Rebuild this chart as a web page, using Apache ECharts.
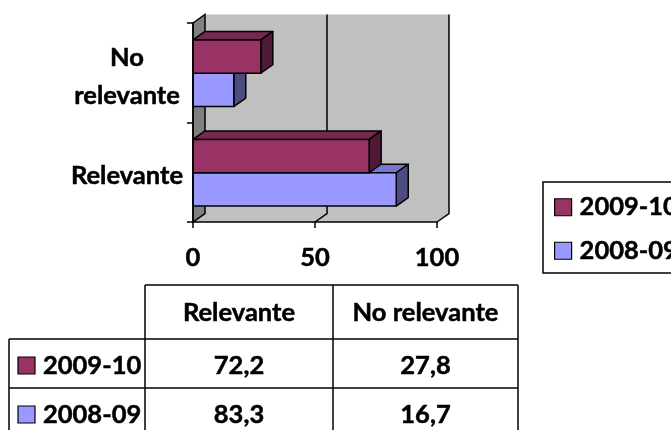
<!DOCTYPE html>
<html>
<head>
<meta charset="utf-8">
<script src="https://cdn.jsdelivr.net/npm/echarts@6/dist/echarts.min.js"></script>
<style>
html,body{margin:0;padding:0;background:#fff;}
#chart{width:671px;height:430px;}
</style>
</head>
<body>
<div id="chart"></div>
<script>
// ---- data ----
const categories = ['Relevante', 'No relevante'];
const seriesNames = ['2009-10', '2008-09'];
const values2009 = [72.2, 27.8];
const values2008 = [83.3, 16.7];
const xMin = 0, xMax = 100, xInterval = 50;

// ---- styles ----
const FONT = 'Lato';
const FS = 25.5;
const TB = 0.5; // slight text outline for heavier weight
const seriesColors = {
  '2009-10': { front: '#993366', top: '#772850', side: '#4e1a35' },
  '2008-09': { front: '#9999ff', top: '#7777cc', side: '#4c4c80' }
};
const DX = 12, DY = -8.5;
const STROKE = '#000';

function fmt(v) { return v.toFixed(1).replace('.', ','); }

function wallRender(params, api) {
  const cs = params.coordSys;
  const yTop = cs.y, yBot = cs.y + cs.height;
  const x0 = api.coord([xMin, 0])[0];
  const x100 = api.coord([xMax, 0])[0];
  const children = [];
  children.push({ type: 'polygon', shape: { points: [[x0 + DX, yTop + DY], [x100 + DX, yTop + DY], [x100 + DX, yBot + DY], [x100, yBot], [x0, yBot], [x0 + DX, yBot + DY]] }, style: { fill: '#c0c0c0', stroke: null } });
  for (let v = xMin + xInterval; v <= xMax; v += xInterval) {
    const xv = api.coord([v, 0])[0];
    children.push({ type: 'polyline', shape: { points: [[xv + DX, yTop + DY], [xv + DX, yBot + DY], [xv, yBot]] }, style: { stroke: STROKE, lineWidth: 1.5, fill: null } });
  }
  children.push({ type: 'polygon', shape: { points: [[x0, yTop], [x0 + DX, yTop + DY], [x0 + DX, yBot + DY], [x0, yBot]] }, style: { fill: '#808080', stroke: STROKE, lineWidth: 1.5 } });
  return { type: 'group', children: children };
}

function barRender(upper, colors) {
  return function (params, api) {
    const val = api.value(0), cat = api.value(1);
    const s = api.coord([0, cat]);
    const e = api.coord([val, cat]);
    const band = api.size([0, 1])[1];
    const h = band * 0.335;
    const cy = s[1] + 0.5;
    const y1 = upper ? cy - h : cy;
    const y2 = y1 + h;
    const x0 = s[0], x1 = e[0];
    const st = { stroke: STROKE, lineWidth: 1.5, lineJoin: 'round' };
    return {
      type: 'group',
      children: [
        { type: 'polygon', shape: { points: [[x0, y1], [x1, y1], [x1 + DX, y1 + DY], [x0 + DX, y1 + DY]] }, style: Object.assign({ fill: colors.top }, st) },
        { type: 'polygon', shape: { points: [[x1, y1], [x1 + DX, y1 + DY], [x1 + DX, y2 + DY], [x1, y2]] }, style: Object.assign({ fill: colors.side }, st) },
        { type: 'polygon', shape: { points: [[x0, y1], [x1, y1], [x1, y2], [x0, y2]] }, style: Object.assign({ fill: colors.front }, st) }
      ]
    };
  };
}

// ---- table graphics ----
const tableCols = [9, 145, 333, 518];
const tableRows = [285, 339, 388, 437];
const rowValues = [values2009, values2008];
const graphics = [];
function hline(y, xa, xb) { graphics.push({ type: 'line', shape: { x1: xa, y1: y, x2: xb, y2: y }, style: { stroke: STROKE, lineWidth: 1.5 }, z: 10 }); }
function vline(x, ya, yb) { graphics.push({ type: 'line', shape: { x1: x, y1: ya, x2: x, y2: yb }, style: { stroke: STROKE, lineWidth: 1.5 }, z: 10 }); }
function txt(s, x, y, align) {
  graphics.push({ type: 'text', x: x, y: y, z: 10, style: { text: s, font: 'bold ' + FS + 'px ' + FONT, fill: '#000', stroke: '#000', lineWidth: TB, align: align, textAlign: align, verticalAlign: 'middle', textVerticalAlign: 'middle' } });
}
hline(tableRows[0], tableCols[1], tableCols[3]);
hline(tableRows[1], tableCols[0], tableCols[3]);
hline(tableRows[2], tableCols[0], tableCols[3]);
hline(tableRows[3], tableCols[0], tableCols[3]);
vline(tableCols[0], tableRows[1], tableRows[3]);
vline(tableCols[1], tableRows[0], tableRows[3]);
vline(tableCols[2], tableRows[0], tableRows[3]);
vline(tableCols[3], tableRows[0], tableRows[3]);
categories.forEach(function (c, i) {
  txt(c, (tableCols[i + 1] + tableCols[i + 2]) / 2, (tableRows[0] + tableRows[1]) / 2 + 1, 'center');
});
seriesNames.forEach(function (name, r) {
  const yc = (tableRows[r + 1] + tableRows[r + 2]) / 2 + 2;
  graphics.push({ type: 'rect', z: 10, shape: { x: 18, y: yc - 8.5, width: 17, height: 17 }, style: { fill: seriesColors[name].front, stroke: STROKE, lineWidth: 1.2 } });
  txt(name, 43, yc, 'left');
  rowValues[r].forEach(function (v, c) {
    txt(fmt(v), (tableCols[c + 1] + tableCols[c + 2]) / 2, yc, 'center');
  });
});

const labelBase = { color: '#000', fontFamily: FONT, fontWeight: 'bold', fontSize: FS, textBorderColor: '#000', textBorderWidth: TB };

const chart = echarts.init(document.getElementById('chart'));
chart.setOption({
  backgroundColor: '#fff',
  animation: false,
  grid: { left: 193, top: 23, width: 244, height: 199, containLabel: false },
  xAxis: {
    type: 'value', min: xMin, max: xMax, interval: xInterval, z: 10,
    axisLine: { show: true, lineStyle: { color: STROKE, width: 1.5 } },
    axisTick: { show: true, length: 6, lineStyle: { color: STROKE, width: 1.5 } },
    splitLine: { show: false },
    axisLabel: Object.assign({ margin: 23 }, labelBase)
  },
  yAxis: {
    type: 'category', data: categories, z: 10,
    axisLine: { show: true, lineStyle: { color: STROKE, width: 1.5 } },
    axisTick: { show: true, length: 6, lineStyle: { color: STROKE, width: 1.5 } },
    splitLine: { show: false },
    axisLabel: {
      margin: 10,
      formatter: function (v) {
        const parts = v.split(' ');
        if (parts.length > 1) return parts.map(function (p) { return '{c|' + p + '}'; }).join('\n');
        return '{r|' + v + '}';
      },
      rich: {
        c: Object.assign({ width: 112, align: 'center', lineHeight: 38 }, labelBase),
        r: Object.assign({ lineHeight: 30 }, labelBase)
      },
      padding: [8, 0, 0, 0]
    }
  },
  legend: {
    orient: 'vertical', left: 543, top: 182,
    data: seriesNames, icon: 'rect', itemWidth: 17, itemHeight: 17, itemGap: 17,
    padding: [12, 12, 9, 11],
    borderColor: STROKE, borderWidth: 1.5,
    itemStyle: { borderColor: STROKE, borderWidth: 1.2 },
    textStyle: Object.assign({ lineHeight: 26, padding: [0, 0, 0, 3] }, labelBase),
    selectedMode: false
  },
  graphic: graphics,
  series: [
    { type: 'custom', name: 'walls', silent: true, z: 1, renderItem: wallRender, data: [[0, 0]], encode: { x: 0, y: 1 } },
    { type: 'custom', name: seriesNames[1], z: 2, itemStyle: { color: seriesColors['2008-09'].front }, renderItem: barRender(false, seriesColors['2008-09']),
      data: values2008.map(function (v, i) { return [v, i]; }), encode: { x: 0, y: 1 } },
    { type: 'custom', name: seriesNames[0], z: 3, itemStyle: { color: seriesColors['2009-10'].front }, renderItem: barRender(true, seriesColors['2009-10']),
      data: values2009.map(function (v, i) { return [v, i]; }), encode: { x: 0, y: 1 } }
  ]
});
</script>
</body>
</html>
